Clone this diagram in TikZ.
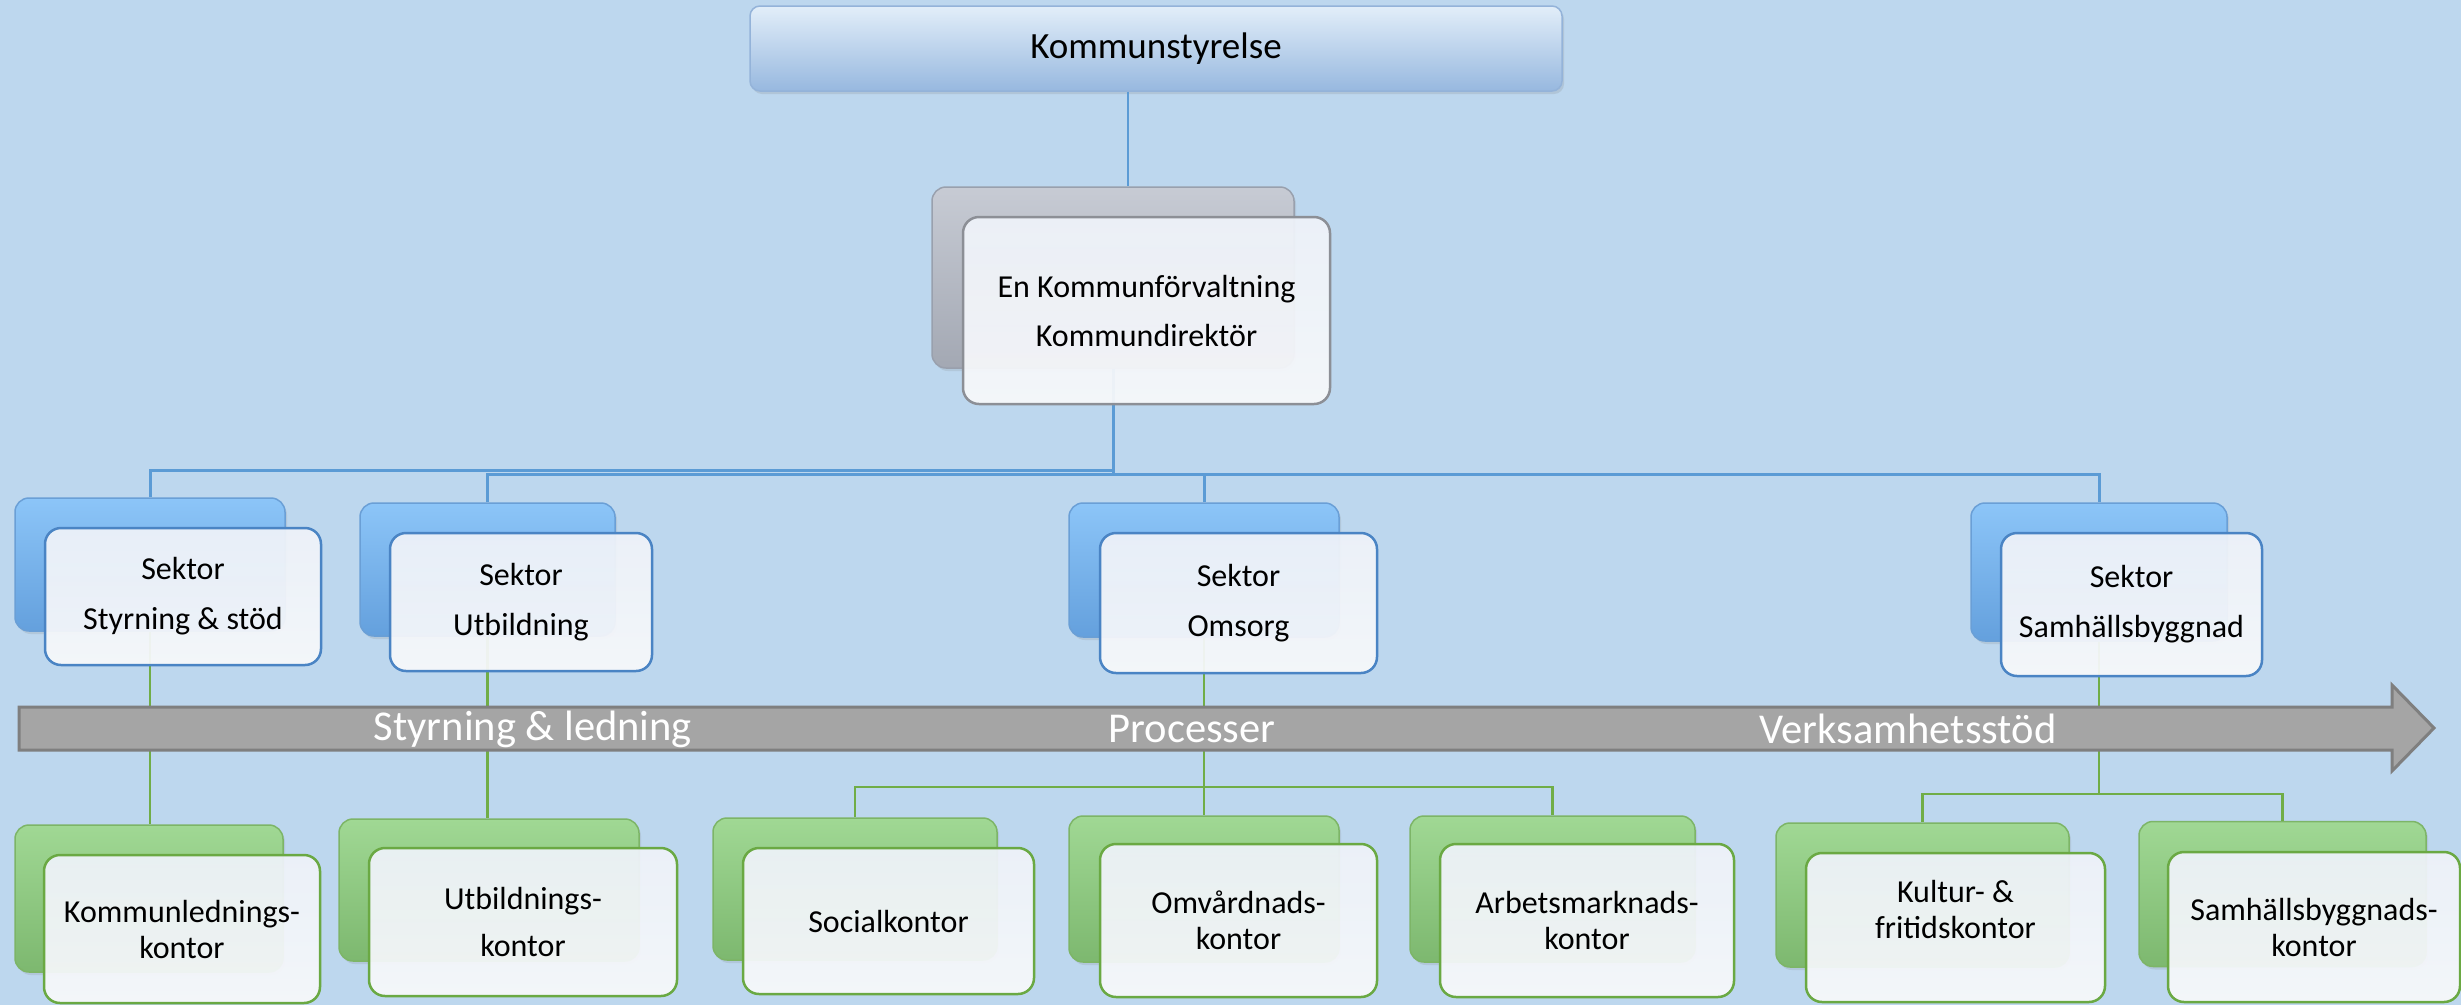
\documentclass[tikz,border=0pt]{standalone}
\usepackage{fontspec}
\setmainfont{Carlito}
\usetikzlibrary{shadows}
\definecolor{bg}{HTML}{BDD7EE}
\definecolor{lineblue}{HTML}{5B9BD5}
\definecolor{linegreen}{HTML}{70AD47}
\definecolor{bbtop}{HTML}{8CC5F8}
\definecolor{bbbot}{HTML}{64A0DD}
\definecolor{bbedge}{HTML}{6A9FD6}
\definecolor{gbtop}{HTML}{A0D894}
\definecolor{gbbot}{HTML}{7DB86F}
\definecolor{gbedge}{HTML}{7DB567}
\definecolor{grtop}{HTML}{C7CBD4}
\definecolor{grbot}{HTML}{A3A8B3}
\definecolor{gredge}{HTML}{99A0AD}
\definecolor{ftop}{HTML}{EEF2F9}
\definecolor{fbot}{HTML}{F7F8FA}
\definecolor{fblue}{HTML}{4A84C4}
\definecolor{fgreen}{HTML}{6AA943}
\definecolor{fgray}{HTML}{8C8F96}
\definecolor{kstop}{HTML}{E2EEF9}
\definecolor{ksmid}{HTML}{A8C5E7}
\definecolor{ksbot}{HTML}{97B8DF}
\definecolor{ksedge}{HTML}{94B3D9}
\definecolor{bandfill}{HTML}{A5A5A5}
\definecolor{bandedge}{HTML}{7F7F7F}
\tikzset{
  bline/.style={draw=lineblue, line width=2.2pt},
  busline/.style={draw=lineblue, line width=3pt},
  gline/.style={draw=linegreen, line width=2.5pt},
  backbox/.style={rounded corners=14pt, line width=1.5pt, drop shadow={opacity=0.18, shadow xshift=2pt, shadow yshift=-3pt}},
  backblue/.style={backbox, draw=bbedge, top color=bbtop, bottom color=bbbot},
  backgreen/.style={backbox, draw=gbedge, top color=gbtop, bottom color=gbbot},
  backgray/.style={backbox, draw=gredge, top color=grtop, bottom color=grbot},
  frontbox/.style={rounded corners=16pt, line width=2.5pt, fill opacity=0.94, text opacity=1,
     top color=ftop, bottom color=fbot, align=center, text=black,
     font=\fontsize{32pt}{50pt}\selectfont},
  frontblue/.style={frontbox, draw=fblue},
  frontgreen/.style={frontbox, draw=fgreen, font=\fontsize{32pt}{36pt}\selectfont},
  frontgray/.style={frontbox, draw=fgray, font=\fontsize{32pt}{49pt}\selectfont},
  bandtext/.style={text=white, font=\fontsize{42.5pt}{50pt}\selectfont},
}
\begin{document}
\begin{tikzpicture}[x=1pt,y=-1pt]
\useasboundingbox (0,0) rectangle (2461,1005);
\fill[bg] (0,0) rectangle (2461,1005);

% ---- boxes (back layer) ----
\node[backgray, minimum width=362, minimum height=181] (kfb) at (1113,277.5) {};
\node[backblue, minimum width=270, minimum height=133] (sb1) at (150,564.5) {};
\node[backblue, minimum width=255, minimum height=133] (sb2) at (487.5,569.5) {};
\node[backblue, minimum width=270, minimum height=134] (sb3) at (1204,570) {};
\node[backblue, minimum width=256, minimum height=138] (sb4) at (2099,572) {};
\node[backgreen, minimum width=268, minimum height=147] (gb1) at (149,898.5) {};
\node[backgreen, minimum width=300, minimum height=142] (gb2) at (489,890) {};
\node[backgreen, minimum width=284, minimum height=142] (gb3) at (855,889) {};
\node[backgreen, minimum width=270, minimum height=146] (gb4) at (1204,889) {};
\node[backgreen, minimum width=285, minimum height=146] (gb5) at (1552.5,889) {};
\node[backgreen, minimum width=293, minimum height=144] (gb6) at (1922.5,895) {};
\node[backgreen, minimum width=287, minimum height=145] (gb7) at (2282.5,894) {};

% ---- top box ----
\node[rounded corners=10pt, draw=ksedge, line width=1.5pt, top color=kstop, middle color=ksmid, bottom color=ksbot,
      drop shadow={opacity=0.2, shadow xshift=2pt, shadow yshift=-3pt},
      minimum width=812, minimum height=85, font=\fontsize{37pt}{44pt}\selectfont] (ks) at (1156,48.5) {Kommunstyrelse};

% ---- connectors ----
\coordinate (busA) at (150,470);
\coordinate (busB) at (488,474);
\coordinate (g3) at (1205,787);
\coordinate (g4) at (2098,794);
\draw[bline] ([xshift=-28pt]ks.south) -- ([xshift=-28pt]ks.south |- kfb.north);
\draw[busline] (kfb.south) -- (kfb.south |- busB);
\draw[busline] (sb1.north) -- (sb1.north |- busA) -- (kfb.south |- busA);
\draw[busline] (sb2.north) -- (sb2.north |- busB) -- (sb4.north |- busB) -- (sb4.north);
\draw[busline] (sb3.north) -- (sb3.north |- busB);
\draw[gline] (sb1.south) -- (sb1.south |- gb1.north);
\draw[gline] (sb2.south) -- (sb2.south |- gb2.north);
\draw[gline] (sb3.south) -- (sb3.south |- gb4.north);
\draw[gline] (gb3.north) -- (gb3.north |- g3) -- (gb5.north |- g3) -- (gb5.north);
\draw[gline] (sb4.south) -- (sb4.south |- g4);
\draw[gline] (gb6.north) -- (gb6.north |- g4) -- (gb7.north |- g4) -- (gb7.north);

% ---- process band ----
\draw[fill=bandfill, draw=bandedge, line width=3pt, line join=miter]
  (19,707) -- (2392,707) -- (2392,685) -- (2434,728) -- (2392,771) -- (2392,750) -- (19,750) -- cycle;
\node[bandtext] (t1) at (533,729) {Styrning \& ledning};
\node[bandtext] (t2) at (1192,729) {Processer};
\node[bandtext] (t3) at (1908,729) {Verksamhetsstöd};

% ---- front boxes ----
\node[frontgray, minimum width=367, minimum height=187] (kff) at (1146.5,310.5) {En Kommunförvaltning\\Kommundirektör};
\node[frontblue, minimum width=276, minimum height=137] (sf1) at (183,596.5) {Sektor\\Styrning \& stöd};
\node[frontblue, minimum width=262, minimum height=138] (sf2) at (521,602) {Sektor\\Utbildning};
\node[frontblue, minimum width=277, minimum height=140] (sf3) at (1238.5,603) {Sektor\\Omsorg};
\node[frontblue, minimum width=261, minimum height=143] (sf4) at (2131.5,604.5) {Sektor\\Samhällsbyggnad};
\node[frontgreen, minimum width=276, minimum height=148] (gf1) at (182,929) {Kommunlednings-\\kontor};
\node[frontgreen, font=\fontsize{32pt}{47.5pt}\selectfont, minimum width=308, minimum height=148] (gf2) at (523,922) {Utbildnings-\\kontor};
\node[frontgreen, minimum width=291, minimum height=146] (gf3) at (888.5,921) {Socialkontor};
\node[frontgreen, minimum width=277, minimum height=153] (gf4) at (1238.5,920.5) {Omvårdnads-\\kontor};
\node[frontgreen, minimum width=294, minimum height=153] (gf5) at (1587,920.5) {Arbetsmarknads-\\kontor};
\node[frontgreen, minimum width=299, minimum height=149] (gf6) at (1955.5,927.5) {Kultur- \&\\fritidskontor\\\mbox{}};
\node[frontgreen, minimum width=292, minimum height=150] (gf7) at (2314,927) {Samhällsbyggnads-\\kontor};
\end{tikzpicture}
\end{document}
